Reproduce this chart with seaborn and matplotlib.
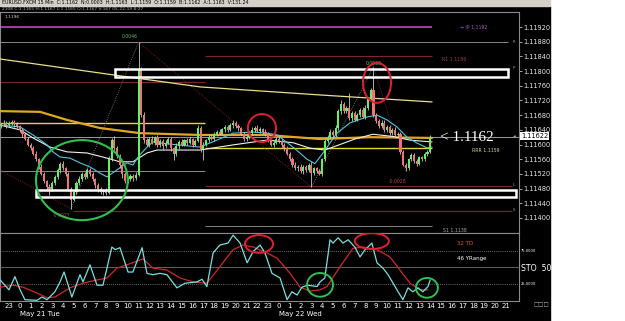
import numpy as np
import pandas as pd
import matplotlib
matplotlib.use("Agg")
import matplotlib.pyplot as plt
import matplotlib.transforms as mtrans
import seaborn as sns
from matplotlib.patches import Ellipse, Rectangle

sns.set_theme(style="dark")
plt.rcParams['font.family'] = ['DejaVu Sans']

# prices are written in points: price = 1.11 + pts / 100000
BASE = 1.11
first_open = 650
closes = [655, 660, 652, 658, 662, 655, 650, 640, 628, 615, 600, 590, 575, 560,
          540, 520, 500, 485, 478, 495, 512, 530, 548, 535, 520, 480, 450,
          470, 495, 505, 520, 512, 530, 520, 505, 490, 478, 470, 475, 468,
          560, 612, 590, 570, 545, 520, 500, 505, 515, 508, 518, 803, 680, 612,
          600, 615, 605, 620, 598, 610, 595, 605, 615, 590, 575, 595, 608, 600,
          612, 605, 615, 600, 610, 645, 588, 600, 612, 620, 615, 628, 635, 630,
          642, 648, 640, 652, 658, 650, 645, 630, 615, 620, 632, 640, 645, 638,
          642, 635, 628, 612, 600, 605, 615, 610, 598, 590, 575, 560, 545, 535,
          540, 528, 540, 530, 545, 522, 535, 528, 520, 560, 610, 620, 635, 625,
          645, 690, 710, 690, 700, 672, 685, 668, 680, 695, 675, 700, 725, 748,
          680, 665, 650, 660, 640, 648, 632, 640, 625, 630, 580, 545, 535, 560,
          571, 555, 548, 565, 560, 575, 580, 620]
upper_wick = [5, 6, 4, 7, 5, 4, 6, 3, 5, 4, 6, 4, 5, 7, 4, 6, 5, 4, 8, 6,
              5, 7, 4, 6, 5, 4, 3, 6, 5, 8, 6, 4, 7, 5, 6, 4, 5, 6, 4, 7,
              8, 6, 10, 5, 4, 6, 5, 7, 4, 5, 6, 76, 8, 9, 6, 5, 7, 4, 6, 5,
              4, 7, 5, 6, 4, 8, 5, 6, 4, 5, 6, 4, 5, 7, 5, 6, 4, 5, 8, 6,
              5, 7, 4, 6, 5, 8, 10, 5, 6, 4, 5, 6, 4, 7, 6, 9, 5, 4, 6, 5,
              4, 6, 5, 7, 4, 5, 6, 4, 5, 7, 5, 6, 4, 5, 6, 7, 4, 5, 6, 4,
              6, 5, 7, 4, 8, 6, 10, 5, 6, 40, 5, 7, 6, 4, 6, 8, 5, 6, 64, 6,
              5, 7, 6, 4, 5, 6, 8, 5, 4, 6, 5, 4, 7, 5, 6, 4, 5, 6, 4, 6]
lower_wick = [4, 5, 6, 3, 5, 6, 4, 5, 7, 4, 5, 6, 4, 5, 7, 4, 6, 5, 15, 4,
              6, 5, 7, 4, 5, 6, 25, 5, 4, 6, 5, 7, 4, 6, 5, 8, 6, 4, 7, 5,
              4, 6, 5, 7, 10, 12, 6, 5, 4, 6, 5, 4, 6, 8, 5, 7, 4, 6, 5, 4,
              6, 5, 4, 7, 17, 5, 6, 4, 5, 6, 4, 6, 5, 4, 7, 30, 5, 6, 4, 5,
              6, 4, 5, 7, 5, 4, 6, 5, 7, 4, 6, 5, 4, 5, 7, 4, 6, 5, 4, 6,
              5, 7, 4, 6, 5, 8, 4, 6, 5, 4, 6, 5, 7, 4, 6, 38, 5, 6, 4, 5,
              4, 6, 5, 7, 4, 5, 6, 4, 5, 6, 7, 4, 5, 6, 4, 5, 6, 5, 4, 6,
              5, 4, 6, 7, 5, 6, 4, 5, 6, 4, 8, 5, 6, 4, 7, 5, 6, 4, 5, 4]

# moving averages: candle index knots and pts
fast_ma_x = [-0.3, 7.1, 11.9, 17.1, 19.3, 21.9, 25.6, 29.3, 33.0, 36.7, 39.3, 43.0, 46.7,
             48.9, 50.8, 54.1, 56.3, 58.9, 73.7, 80.0, 86.0, 93.4, 98.6, 102.3, 108.2,
             113.4, 116.3, 119.3, 124.5, 129.3, 135.6, 139.3, 143.0, 146.7, 150.4,
             154.1, 157.8, 159.7]
fast_ma_y = [653, 648, 626, 599, 580, 566, 563, 550, 539, 522, 512, 531, 550, 544, 566,
             593, 607, 604, 593, 612, 631, 634, 631, 626, 593, 560, 548, 577, 631, 659,
             675, 680, 667, 648, 620, 604, 591, 593]
slow_ma_x = [-0.3, 7.1, 11.9, 18.2, 24.5, 31.9, 39.3, 44.1, 48.9, 54.1, 57.8, 73.7, 86.0,
             98.6, 108.2, 114.5, 120.0, 125.6, 131.1, 137.8, 145.2, 151.5, 159.7]
slow_ma_y = [653, 640, 618, 593, 580, 577, 563, 553, 553, 577, 585, 585, 599, 612, 605,
             590, 585, 600, 615, 628, 622, 612, 607]
long_ma_x = [-0.3, 14.5, 24.5, 36.7, 51.5, 73.7, 98.6, 118.2, 136.7, 159.7]
long_ma_y = [691, 689, 667, 645, 631, 626, 626, 615, 620, 618]
trend_x = [-0.3, 42.3, 73.7, 118.2, 159.7]
trend_y = [833, 789, 757, 735, 716]

# zigzag pivots
zz_x = [-0.3, 26, 51, 115, 138, 150]
zz_y = [531, 425, 879, 484, 812, 527]

# stochastic %K and %D
k_x = [-0.3, 3.0, 5.2, 7.1, 8.9, 13.4, 15.2, 17.1, 20.0, 21.9, 23.4, 26.3, 29.3, 30.4,
       33.0, 35.6, 37.8, 41.1, 42.3, 44.1, 47.1, 48.9, 52.3, 54.1, 56.3, 58.9, 61.5,
       65.2, 68.2, 72.6, 74.5, 76.3, 78.6, 81.1, 84.1, 86.0, 88.6, 91.2, 93.4, 96.0,
       97.8, 100.4, 103.4, 106.0, 107.8, 109.7, 111.5, 113.7, 117.1, 118.2, 120.0,
       121.9, 123.0, 124.9, 126.7, 128.6, 131.1, 133.0, 134.9, 137.4, 139.3, 141.5,
       143.4, 146.7, 148.9, 150.8, 152.6, 154.5, 156.3, 158.2, 159.0]
k_v = [31, 16, 36, 16, 1, 0, 5, 1, 13, 28, 43, 5, 39, 28, 54, 23, 23, 81, 77, 80, 43,
       43, 80, 41, 39, 41, 39, 19, 26, 28, 32, 21, 72, 84, 87, 99, 87, 57, 74, 84, 72,
       41, 34, 1, 13, 8, 20, 23, 21, 28, 34, 92, 87, 95, 87, 92, 81, 66, 77, 87, 57,
       49, 39, 16, 1, 19, 13, 19, 13, 21, 31]
d_x = [-0.3, 4.5, 8.2, 13.4, 17.1, 20.0, 25.6, 30.4, 35.6, 39.3, 43.0, 46.7, 52.6, 56.3,
       61.5, 66.3, 71.2, 76.3, 81.1, 86.0, 89.7, 93.4, 98.6, 102.3, 107.1, 110.8,
       114.5, 118.2, 120.8, 125.6, 130.4, 134.1, 139.3, 144.1, 147.8, 151.5, 155.2, 158.2]
d_v = [20, 23, 20, 11, 4, 5, 19, 26, 31, 34, 49, 54, 63, 49, 46, 34, 28, 26, 51, 77, 84,
       81, 72, 64, 41, 20, 14, 16, 21, 51, 79, 81, 77, 66, 46, 26, 16, 16]

# level lines: pts, start index, end index, colour, width
levels = [(920, -0.5, 159.7, '#b040b0', 1.3),
          (879, -0.5, 187.8, '#8a8a8a', 0.7),
          (841, 75.6, 159.7, '#7a2828', 0.8),
          (770, -0.5, 75.6, '#7a2828', 0.8),
          (659, -0.5, 75.6, '#e8d830', 1.0),
          (620, -0.5, 192, '#9a9a9a', 0.7),
          (591, 75.6, 159.7, '#e8d830', 1.0),
          (528, -0.5, 75.6, '#8a8a8a', 0.7),
          (487, 75.6, 189.3, '#7a2828', 0.8),
          (419, 26.7, 189.3, '#7a2828', 0.8),
          (378, 75.6, 159.7, '#8a8a8a', 0.7)]
boxes = [(42.3, 187.8, 784, 806), (13.0, 190.8, 457, 476)]

hours = [(23 + h) % 24 for h in range(47)]
hour_pos = [4 * h + 3 for h in range(47)]


def pr(v):
    return BASE + np.asarray(v, dtype=float) / 1e5


c = np.array(closes, dtype=float)
o = np.concatenate([[first_open], c[:-1]])
hi = np.maximum(o, c) + np.array(upper_wick)
lo = np.minimum(o, c) - np.array(lower_wick)
idx = np.arange(len(c))
df = pd.DataFrame({'i': idx, 'open': pr(o), 'close': pr(c), 'high': pr(hi), 'low': pr(lo)})
df['up'] = df['close'] >= df['open']

W, H = 625, 321
fig = plt.figure(figsize=(W / 100, H / 100), dpi=100, facecolor='white')
fig.patches.append(Rectangle((0, 0), 550 / W, 1 - 6 / H, transform=fig.transFigure,
                             color='black', zorder=-10))
fig.patches.append(Rectangle((0, 1 - 6 / H), 550 / W, 6 / H, transform=fig.transFigure,
                             color='#d4d0c8', zorder=-10))
fig.text(2 / W, 1 - 3 / H, "EURUSD.FXCM 15 Min  C:1.1162  N:0.0003  H:1.1163  L:1.1159  "
         "O:1.1159  B:1.1162  A:1.1163  V:131.24", fontsize=3.4, color='black', va='center')
fig.text(2 / W, 1 - 9 / H, "2108 C:1.1165 H:1.1167 L:1.1165 O:1.1167 V:167 05-22-19 8:27",
         fontsize=3.2, color='#b0b0b0', va='center')

ax = fig.add_axes([0, 1 - 233 / H, 519 / W, (233 - 12) / H])
ax2 = fig.add_axes([0, 1 - 301 / H, 519 / W, (301 - 233) / H])
xlim = (-0.33, 191.9)

for a in (ax, ax2):
    a.set_facecolor('black')
    a.set_xlim(*xlim)
    a.grid(False)
    for s in a.spines.values():
        s.set_color('#8a8a8a')
        s.set_linewidth(0.8)

ax.set_ylim(pr(359), pr(961))

# level lines and boxes
for lv, x0, x1, col, lw in levels:
    ax.hlines(pr(lv), x0, x1, color=col, lw=lw, zorder=2)
for x0, x1, y0, y1 in boxes:
    ax.add_patch(Rectangle((x0, pr(y0)), x1 - x0, pr(y1) - pr(y0), fill=False,
                           ec='white', lw=1.8, zorder=6))

# zigzag
for k in range(len(zz_x) - 1):
    col = '#a02828' if zz_y[k + 1] < zz_y[k] else '#8a8a8a'
    ax.plot(zz_x[k:k + 2], pr(zz_y[k:k + 2]), color=col, lw=0.6, ls=(0, (1, 1.5)), zorder=2)

# moving averages
sns.lineplot(x=trend_x, y=pr(trend_y), ax=ax, color='#e8e08a', lw=0.9, zorder=3)
sns.lineplot(x=long_ma_x, y=pr(long_ma_y), ax=ax, color='#e0a820', lw=1.6, zorder=3)
sns.lineplot(x=slow_ma_x, y=pr(slow_ma_y), ax=ax, color='#f0f0f0', lw=0.8, zorder=4)
sns.lineplot(x=fast_ma_x, y=pr(fast_ma_y), ax=ax, color='#50c8e0', lw=0.8, zorder=4)

# candles
ax.vlines(df['i'], df['low'], df['high'], color='#c8c8c8', lw=0.6, zorder=5)
body_col = np.where(df['up'], '#66ee66', '#f07474')
ax.bar(df['i'], (df['close'] - df['open']).abs().clip(lower=0.000015),
       bottom=np.minimum(df['open'], df['close']), width=0.78, color=body_col,
       lw=0, zorder=5)

# circles
ax.add_patch(Ellipse((30.0, pr(503)), 34, pr(218) - BASE, fill=False, ec='#30c050', lw=1.5, zorder=7))
ax.add_patch(Ellipse((96.7, pr(645)), 10.4, pr(76) - BASE, fill=False, ec='#e02030', lw=1.4, zorder=7))
ax.add_patch(Ellipse((139.3, pr(768)), 10.4, pr(109) - BASE, fill=False, ec='#e02030', lw=1.4, zorder=7))

# texts in main panel
fs = 3.3
ax.text(47.8, pr(893), "0.0046", color='#60c060', fontsize=fs, ha='center', va='center')
ax.text(22.6, pr(408), "-0.0027", color='#c04040', fontsize=fs, ha='center', va='center')
ax.text(138.2, pr(820), "0.0033", color='#60c060', fontsize=fs, ha='center', va='center')
ax.text(147.0, pr(498), "-0.0028", color='#c04040', fontsize=fs, ha='center', va='center')
ax.text(170, pr(920), "\u2192 IP 1.1192", color='#a060c0', fontsize=fs, va='center')
ax.text(163.4, pr(832), "R1 1.1186", color='#a04040', fontsize=fs, va='center')
ax.text(174.5, pr(585), "RRR 1.1159", color='#d8d8a0', fontsize=fs, va='center')
ax.text(163.7, pr(366), "S1 1.1138", color='#a0b0a0', fontsize=fs, va='center')
for lab, lv in [("R", 879), ("P", 808), ("L", 489), ("S", 421)]:
    ax.text(189.6, pr(lv), lab, color='#a0a0a0', fontsize=2.8, va='center')
ax.text(162.6, pr(620), "< 1.1162", color='white', fontsize=11,
        family=['Liberation Serif', 'DejaVu Serif'], va='center')
ax.text(1.2, pr(947), "1.1196", color='#d0d0d0', fontsize=3.2, va='center')

# right price axis
ax.yaxis.tick_right()
ticks = pr(np.arange(400, 921, 40))
ax.set_yticks(ticks)
ax.set_yticklabels(["%.5f" % t for t in ticks])
ax.tick_params(axis='y', colors='#e8e8e8', labelsize=4.8, length=2, pad=1, width=0.5)
ax.tick_params(axis='x', bottom=False, labelbottom=False)
tr = mtrans.blended_transform_factory(ax.transAxes, ax.transData)
ax.text(1.004, pr(622), "1.11622", transform=tr, fontsize=4.8, color='black', va='center',
        bbox=dict(boxstyle='square,pad=0.15', fc='white', ec='none'), zorder=9)
ax.text(0.994, pr(622), "\u25c4", transform=tr, fontsize=2.5, color='white', va='center', ha='right')
ax.set_xlabel("")
ax.set_ylabel("")

# stochastic panel
ax2.set_ylim(-1, 102.3)
ax2.axhline(75, color='#909090', lw=0.6, ls=(0, (1, 1.5)))
ax2.axhline(50, color='#707070', lw=0.6)
ax2.axhline(25, color='#909090', lw=0.6, ls=(0, (1, 1.5)))
sns.lineplot(x=d_x, y=d_v, ax=ax2, color='#d02828', lw=0.9, zorder=3)
sns.lineplot(x=k_x, y=k_v, ax=ax2, color='#78e0e0', lw=0.9, zorder=4)
for (cx, cy, w, h, col) in [(95.6, 85.6, 10.4, 27, '#e02030'), (118.2, 23.5, 9.6, 36, '#30c050'),
                            (137.4, 90, 12.6, 24, '#e02030'), (157.8, 19, 8.1, 30, '#30c050')]:
    ax2.add_patch(Ellipse((cx, cy), w, h, fill=False, ec=col, lw=1.4, zorder=6))
ax2.text(169, 85.6, "32 TD", color='#e05a30', fontsize=4, va='center')
ax2.text(169, 64, "46 YRange", color='white', fontsize=4, va='center')

ax2.yaxis.tick_right()
ax2.set_yticks([75, 50, 25])
ax2.set_yticklabels(["75.0000", "STO  50.", "25.0000"])
ax2.tick_params(axis='y', colors='white', length=0, pad=1.5)
for t, s in zip(ax2.get_yticklabels(), [2.6, 5.6, 2.6]):
    t.set_fontsize(s)
ax2.set_xticks(hour_pos)
ax2.set_xticklabels([str(hv) for hv in hours])
ax2.tick_params(axis='x', colors='white', labelsize=5, length=0, pad=1.5)
ax2.set_xlabel("")
ax2.set_ylabel("")
trx = mtrans.blended_transform_factory(ax2.transData, ax2.transAxes)
ax2.text(7.1, -0.19, "May 21 Tue", transform=trx, color='white', fontsize=5, va='center')
ax2.text(103, -0.19, "May 22 Wed", transform=trx, color='white', fontsize=5, va='center')
fig.text(533 / W, 1 - 305 / H, "\u25a1\u25a1\u25a1", color='#b0b0b0', fontsize=4, va='center')

fig.savefig("out.png", dpi=100, facecolor=fig.get_facecolor())
